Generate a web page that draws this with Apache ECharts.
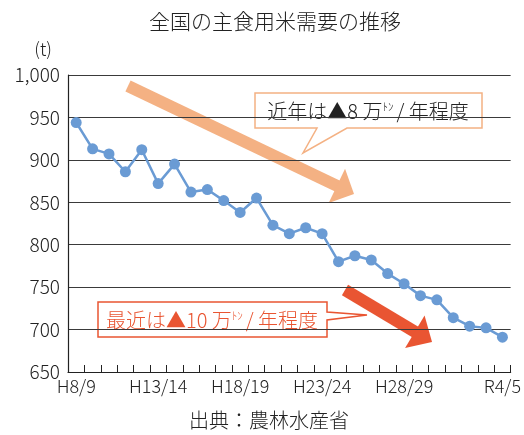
<!DOCTYPE html>
<html>
<head>
<meta charset="utf-8">
<script src="https://cdn.jsdelivr.net/npm/echarts@6/dist/echarts.min.js"></script>
<style>
html, body { margin: 0; padding: 0; background: #fff; }
#main { width: 524px; height: 435px; }
</style>
</head>
<body>
<div id="main"></div>
<script>
var FONT = '"Noto Sans CJK JP", "Noto Sans", sans-serif';

// years (fiscal), H8/9 .. R4/5
var years = ['H8/9', 'H9/10', 'H10/11', 'H11/12', 'H12/13', 'H13/14', 'H14/15', 'H15/16', 'H16/17',
  'H17/18', 'H18/19', 'H19/20', 'H20/21', 'H21/22', 'H22/23', 'H23/24', 'H24/25', 'H25/26',
  'H26/27', 'H27/28', 'H28/29', 'H29/30', 'H30/31', 'R1/2', 'R2/3', 'R3/4', 'R4/5'];
// labels actually printed under the axis
var shownLabels = ['H8/9', 'H13/14', 'H18/19', 'H23/24', 'H28/29', 'R4/5'];
// demand (万t)
var demand = [944, 913, 907, 886, 912, 872, 895, 862, 865, 852, 838, 855, 823, 813, 820, 813,
  780, 787, 782, 766, 754, 740, 735, 714, 704, 702, 691];
var yTicks = { min: 650, max: 1000, step: 50 };

var chart = echarts.init(document.getElementById('main'));

function arrow(x0, y0, x1, y1, w, headLen, headHalf, color) {
  var dx = x1 - x0, dy = y1 - y0, len = Math.sqrt(dx * dx + dy * dy);
  var ux = dx / len, uy = dy / len, nx = -uy, ny = ux;
  var bx = x1 - ux * headLen, by = y1 - uy * headLen;
  return [{
    type: 'line', silent: true,
    shape: { x1: x0, y1: y0, x2: bx + ux * 2, y2: by + uy * 2 },
    style: { stroke: color, lineWidth: w }
  }, {
    type: 'polygon', silent: true,
    shape: { points: [[bx + nx * headHalf, by + ny * headHalf], [x1, y1], [bx - nx * headHalf, by - ny * headHalf]] },
    style: { fill: color }
  }];
}

var light = '#F4B183';
var red = '#E95532';

var graphics = []
  .concat(arrow(128, 86, 354, 194, 12, 19, 19, light))
  .concat(arrow(345, 290, 432, 342, 12, 20, 19, red));

// callout 1 (top)
graphics.push({
  type: 'polygon', silent: true,
  shape: { points: [[255, 93], [482, 93], [482, 128], [347, 128], [303, 153], [317, 128], [255, 128]] },
  style: { fill: '#fff', stroke: light, lineWidth: 1.5 }
});
graphics.push({
  type: 'text', silent: true, x: 368, y: 111,
  style: {
    text: '{a|近年は▲8 万}{s|ﾄﾝ}{a|/ 年程度}',
    align: 'center', verticalAlign: 'middle',
    rich: {
      a: { fontFamily: FONT, fontSize: 20, fontWeight: 300, fill: '#222' },
      s: { fontFamily: FONT, fontSize: 11, fontWeight: 300, fill: '#222', verticalAlign: 'top', padding: [0, 3, 9, 0] }
    }
  }
});
// callout 2 (bottom)
graphics.push({
  type: 'polygon', silent: true,
  shape: { points: [[98, 302], [327, 302], [327, 312], [367, 315], [327, 320], [327, 337], [98, 337]] },
  style: { fill: '#fff', stroke: red, lineWidth: 1.5 }
});
graphics.push({
  type: 'text', silent: true, x: 212, y: 320,
  style: {
    text: '{a|最近は▲10 万}{s|ﾄﾝ}{a|/ 年程度}',
    align: 'center', verticalAlign: 'middle',
    rich: {
      a: { fontFamily: FONT, fontSize: 20, fontWeight: 300, fill: red },
      s: { fontFamily: FONT, fontSize: 11, fontWeight: 300, fill: red, verticalAlign: 'top', padding: [0, 3, 9, 0] }
    }
  }
});

var option = {
  animation: false,
  backgroundColor: '#fff',
  textStyle: { fontFamily: FONT, fontWeight: 300 },
  title: {
    text: '全国の主食用米需要の推移',
    left: 270, top: 6, textAlign: 'center',
    textStyle: { fontFamily: FONT, fontSize: 21, fontWeight: 300, color: '#222' }
  },
  grid: { left: 68, right: 9, top: 75, bottom: 63 },
  xAxis: {
    type: 'category',
    data: years,
    boundaryGap: true,
    axisLine: { lineStyle: { color: '#222', width: 1.2 } },
    axisTick: { show: true, inside: true, length: 7, interval: 0, lineStyle: { color: '#222' } },
    axisLabel: {
      interval: 0, margin: 5, fontSize: 18, fontWeight: 300, color: '#222', fontFamily: FONT,
      formatter: function (v) { return shownLabels.indexOf(v) >= 0 ? v : ''; }
    }
  },
  yAxis: {
    type: 'value',
    min: yTicks.min, max: yTicks.max, interval: yTicks.step,
    name: '(t)',
    nameLocation: 'end',
    nameGap: 17,
    nameTextStyle: { fontSize: 18, fontWeight: 300, color: '#222', align: 'right', padding: [0, 16, 0, 0] },
    axisLine: { show: true, lineStyle: { color: '#222', width: 1.2 } },
    axisTick: { show: false },
    axisLabel: {
      margin: 8, fontSize: 19, fontWeight: 300, color: '#222', fontFamily: FONT,
      formatter: function (v) { return v.toLocaleString('en-US'); }
    },
    splitLine: { lineStyle: { color: '#3a3a3a', width: 1 } }
  },
  series: [{
    type: 'line',
    data: demand,
    symbol: 'circle',
    symbolSize: 11,
    itemStyle: { color: '#6A9BD4' },
    lineStyle: { color: '#6A9BD4', width: 2.5 },
    z: 3
  }],
  graphic: [{
    type: 'text', silent: true, x: 269, y: 420,
    style: {
      text: '出典：農林水産省', fontFamily: FONT, fontSize: 20, fontWeight: 300, fill: '#222',
      align: 'center', verticalAlign: 'middle'
    }
  }].concat(graphics)
};

chart.setOption(option);
</script>
</body>
</html>
